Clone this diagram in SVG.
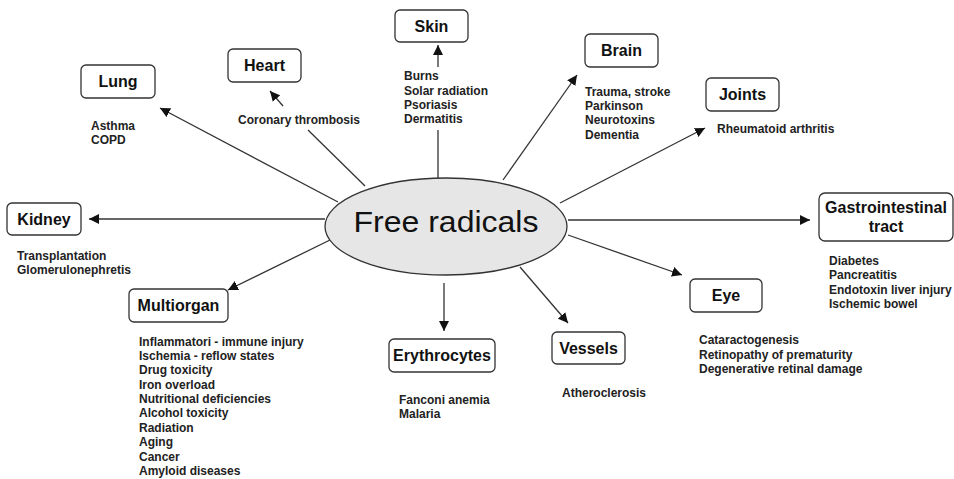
<svg xmlns="http://www.w3.org/2000/svg" width="954" height="479" viewBox="0 0 954 479">
<style>
.box{fill:#fff;stroke:#333;stroke-width:1.3}
.lbl{font-family:"Liberation Sans",Arial,sans-serif;font-weight:bold;font-size:16px;fill:#111;text-anchor:middle}
.txt{font-family:"Liberation Sans",Arial,sans-serif;font-weight:bold;font-size:12px;fill:#222}
.ln{stroke:#333;stroke-width:1.3;fill:none}
</style>
<defs>
<marker id="ah" viewBox="0 0 10 10" refX="10" refY="5" markerWidth="10" markerHeight="10" markerUnits="userSpaceOnUse" orient="auto">
<path d="M0,0 L10,5 L0,10 z" fill="#111"/>
</marker>
</defs>
<rect width="954" height="479" fill="#fff"/>
<g id="connectors">
<line class="ln" x1="338" y1="202" x2="160" y2="108" marker-end="url(#ah)"/>
<line class="ln" x1="283" y1="106" x2="270" y2="91" marker-end="url(#ah)"/>
<line class="ln" x1="308" y1="130" x2="365" y2="186"/>
<line class="ln" x1="438" y1="67" x2="438" y2="45" marker-end="url(#ah)"/>
<line class="ln" x1="438" y1="130" x2="438" y2="178"/>
<line class="ln" x1="503" y1="180" x2="577" y2="75" marker-end="url(#ah)"/>
<line class="ln" x1="560" y1="203" x2="705" y2="128" marker-end="url(#ah)"/>
<line class="ln" x1="568" y1="220" x2="810" y2="220" marker-end="url(#ah)"/>
<line class="ln" x1="568" y1="235" x2="682" y2="275" marker-end="url(#ah)"/>
<line class="ln" x1="520" y1="267" x2="568" y2="323" marker-end="url(#ah)"/>
<line class="ln" x1="444" y1="283" x2="444" y2="331" marker-end="url(#ah)"/>
<line class="ln" x1="330" y1="240" x2="228" y2="290" marker-end="url(#ah)"/>
<line class="ln" x1="325" y1="219" x2="89" y2="219" marker-end="url(#ah)"/>
</g>
<g id="center">
<ellipse cx="446" cy="226.5" rx="121" ry="48.5" fill="#e6e6e6" stroke="#333" stroke-width="1.3"/>
<text x="446" y="232" font-family="'Liberation Sans',Arial,sans-serif" font-size="30" fill="#111" text-anchor="middle" textLength="185" lengthAdjust="spacingAndGlyphs">Free radicals</text>
</g>
<g id="lung">
<rect class="box" x="81" y="65" width="74" height="33" rx="5"/>
<text class="lbl" x="118" y="87">Lung</text>
<text class="txt" x="91" y="130">Asthma</text>
<text class="txt" x="91" y="144">COPD</text>
</g>
<g id="heart">
<rect class="box" x="228" y="49" width="73" height="33" rx="5"/>
<text class="lbl" x="264.5" y="71">Heart</text>
<text class="txt" x="238" y="124">Coronary thrombosis</text>
</g>
<g id="skin">
<rect class="box" x="395" y="10" width="73" height="32" rx="5"/>
<text class="lbl" x="431.5" y="32">Skin</text>
<text class="txt" x="404" y="80">Burns</text>
<text class="txt" x="404" y="95">Solar radiation</text>
<text class="txt" x="404" y="109">Psoriasis</text>
<text class="txt" x="404" y="123">Dermatitis</text>
</g>
<g id="brain">
<rect class="box" x="585" y="34" width="73" height="33" rx="5"/>
<text class="lbl" x="621.5" y="56">Brain</text>
<text class="txt" x="585" y="96">Trauma, stroke</text>
<text class="txt" x="585" y="110">Parkinson</text>
<text class="txt" x="585" y="124">Neurotoxins</text>
<text class="txt" x="585" y="139">Dementia</text>
</g>
<g id="joints">
<rect class="box" x="706" y="78" width="73" height="33" rx="5"/>
<text class="lbl" x="742.5" y="100">Joints</text>
<text class="txt" x="717" y="133">Rheumatoid arthritis</text>
</g>
<g id="gi">
<rect class="box" x="819" y="193" width="134" height="48" rx="6"/>
<text class="lbl" x="886" y="213">Gastrointestinal</text>
<text class="lbl" x="886" y="232">tract</text>
<text class="txt" x="829" y="265">Diabetes</text>
<text class="txt" x="829" y="279">Pancreatitis</text>
<text class="txt" x="829" y="294">Endotoxin liver injury</text>
<text class="txt" x="829" y="308">Ischemic bowel</text>
</g>
<g id="eye">
<rect class="box" x="690" y="279" width="72" height="33" rx="5"/>
<text class="lbl" x="726" y="301">Eye</text>
<text class="txt" x="699" y="344">Cataractogenesis</text>
<text class="txt" x="699" y="359">Retinopathy of prematurity</text>
<text class="txt" x="699" y="373">Degenerative retinal damage</text>
</g>
<g id="vessels">
<rect class="box" x="552" y="332" width="73" height="32" rx="5"/>
<text class="lbl" x="588.5" y="354">Vessels</text>
<text class="txt" x="562" y="397">Atheroclerosis</text>
</g>
<g id="erythrocytes">
<rect class="box" x="389" y="339" width="106" height="33" rx="5"/>
<text class="lbl" x="442" y="361">Erythrocytes</text>
<text class="txt" x="399" y="404">Fanconi anemia</text>
<text class="txt" x="399" y="418">Malaria</text>
</g>
<g id="multiorgan">
<rect class="box" x="129" y="289" width="99" height="33" rx="5"/>
<text class="lbl" x="178.5" y="311">Multiorgan</text>
<text class="txt" x="139" y="346">Inflammatori - immune injury</text>
<text class="txt" x="139" y="360">Ischemia - reflow states</text>
<text class="txt" x="139" y="374">Drug toxicity</text>
<text class="txt" x="139" y="389">Iron overload</text>
<text class="txt" x="139" y="403">Nutritional deficiencies</text>
<text class="txt" x="139" y="417">Alcohol toxicity</text>
<text class="txt" x="139" y="432">Radiation</text>
<text class="txt" x="139" y="446">Aging</text>
<text class="txt" x="139" y="461">Cancer</text>
<text class="txt" x="139" y="475">Amyloid diseases</text>
</g>
<g id="kidney">
<rect class="box" x="7" y="203" width="74" height="32" rx="5"/>
<text class="lbl" x="44" y="225">Kidney</text>
<text class="txt" x="17" y="260">Transplantation</text>
<text class="txt" x="17" y="274">Glomerulonephretis</text>
</g>
</svg>
